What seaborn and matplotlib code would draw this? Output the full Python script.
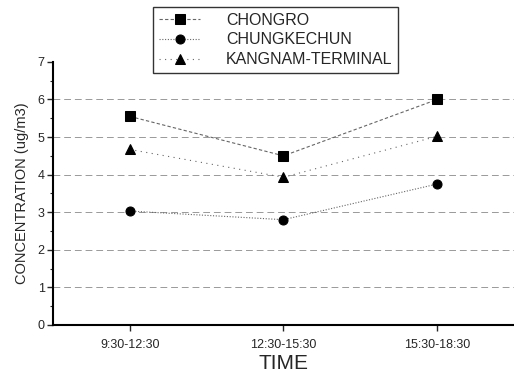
import numpy as np
import pandas as pd
import seaborn as sns
import matplotlib.pyplot as plt
from matplotlib.ticker import MultipleLocator

#data
periods = ["9:30-12:30", "12:30-15:30", "15:30-18:30"]
chongro = [5.55, 4.50, 6.00]
chungkechun = [3.03, 2.80, 3.75]
kangnam = [4.67, 3.93, 5.02]

stations = ["CHONGRO", "CHUNGKECHUN", "KANGNAM-TERMINAL"]
markers = ["s", "o", "^"]
styles = [(0, (3, 2)), (0, (1, 1.5)), (0, (1, 4))]

rows = []
for name, vals in zip(stations, [chongro, chungkechun, kangnam]):
    for i, v in enumerate(vals):
        rows.append({"station": name, "pos": i, "conc": v})
df = pd.DataFrame(rows)

sns.set_style("white")
plt.rcParams["font.family"] = ["Liberation Sans", "DejaVu Sans"]

fig = plt.figure(figsize=(5.14, 3.73), dpi=100)
#left spine ~53px, bottom ~325px, y=7 at ~62px
ax = fig.add_axes([0.103, 0.129, 0.897, 0.705])

#horizontal grid
for yv in range(1, 7):
    ax.axhline(yv, color="0.6", lw=0.7, ls=(0, (7, 4)), zorder=0)

for name, m, ls in zip(stations, markers, styles):
    sub = df[df["station"] == name]
    sns.lineplot(data=sub, x="pos", y="conc", ax=ax, color="0.4", lw=0.8,
                 linestyle=ls, marker=m, markersize=6.5,
                 markerfacecolor="black", markeredgecolor="black",
                 label=name, legend=False)

ax.set_xlim(-0.5, 2.5)
ax.set_ylim(0, 7)
ax.set_xticks(range(len(periods)))
ax.set_xticklabels(periods, fontsize=9)
ax.yaxis.set_major_locator(MultipleLocator(1))
ax.yaxis.set_minor_locator(MultipleLocator(0.5))
ax.tick_params(axis="y", which="major", direction="out", length=4, width=1, labelsize=9, left=True, pad=2)
ax.tick_params(axis="y", which="minor", direction="out", length=2, width=0.8, left=True)
ax.tick_params(axis="x", direction="out", length=4, width=1, bottom=True, pad=6)

ax.set_xlabel("TIME", fontsize=15, labelpad=2)
ax.set_ylabel("CONCENTRATION (ug/m3)", fontsize=10.5, labelpad=6)

for s in ["top", "right"]:
    ax.spines[s].set_visible(False)
for s in ["left", "bottom"]:
    ax.spines[s].set_color("black")
    ax.spines[s].set_linewidth(1.5)

handles, labels = ax.get_legend_handles_labels()
leg = fig.legend(handles, labels, loc="upper left", bbox_to_anchor=(0.298, 0.981),
                 fontsize=11.5, frameon=True, fancybox=False, edgecolor="black",
                 handlelength=2.6, handletextpad=1.6, borderpad=0.35,
                 labelspacing=0.3, borderaxespad=0)
leg.get_frame().set_linewidth(1.0)

fig.savefig("out.png", dpi=100)
